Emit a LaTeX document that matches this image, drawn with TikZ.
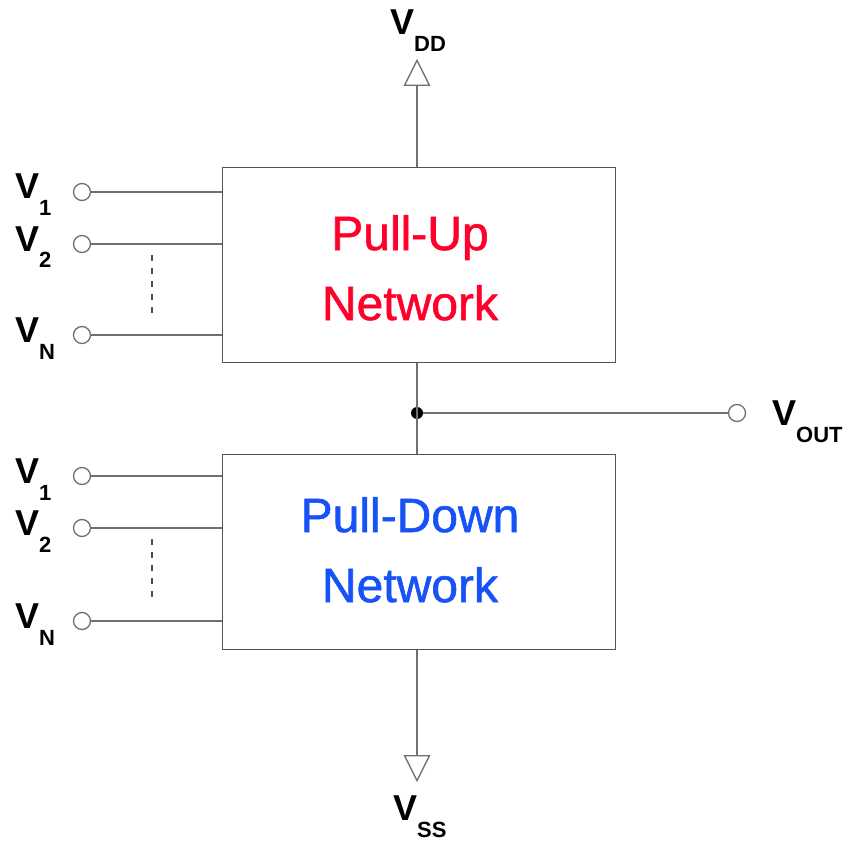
\documentclass[tikz,border=0pt]{standalone}
\usepackage{fontspec}
\setmainfont{Liberation Sans}
\newfontfamily\netfont[FakeBold=1.2]{Liberation Sans}
\usetikzlibrary{positioning, shapes.geometric}
\definecolor{pured}{RGB}{255,0,43}
\definecolor{pdblue}{RGB}{22,82,245}
\definecolor{wire}{RGB}{112,112,112}
% supply / signal name: big V with a dropped subscript
\newcommand{\vname}[1]{{\fontsize{36}{36}\selectfont\bfseries V}\raisebox{-17pt}{\fontsize{22}{22}\selectfont\bfseries #1}}
\tikzset{net/.style={rectangle,draw=wire!75!black,fill=white,line width=1.5pt,minimum width=393pt,minimum height=195pt,inner sep=0pt},nettext/.style={align=center,font=\netfont\fontsize{48}{70}\selectfont,inner sep=0pt,anchor=base},term/.style={circle,draw=wire,fill=white,line width=1.3pt,minimum size=17pt,inner sep=0pt},junc/.style={circle,fill=black,minimum size=12pt,inner sep=0pt},rail/.style={isosceles triangle,isosceles triangle stretches,draw=wire,fill=white,line width=1.3pt,minimum width=25pt,minimum height=25pt,inner sep=0pt},vlab/.style={inner sep=0pt,anchor=base west},wireline/.style={draw=wire,line width=1.3pt},dots/.style={draw=wire!70!black,line width=1.3pt,dash pattern=on 6pt off 7pt}}

\begin{document}
\begin{tikzpicture}[x=1pt,y=-1pt]
\useasboundingbox[fill=white] (0,0) rectangle (842,842);

% the two networks (text anchored on its last line)
\node[net] (pu) at (419.2,265) {};
\node[net] (pd) at (419.2,552) {};
\node[nettext, text=pured] (putxt) at (410,320) {Pull-Up\\Network};
\node[nettext, text=pdblue] (pdtxt) at (410,602) {Pull-Down\\Network};

% supplies
\node[rail, shape border rotate=90, anchor=south] (vdd) at (417,86) {};
\node[rail, shape border rotate=270, anchor=north] (vss) at (417,755) {};
\node[vlab] (vddl) at (390,35) {\vname{DD}};
\node[vlab] (vssl) at (393,820) {\vname{SS}};
\draw[wireline] (vdd.south) -- (vdd.south |- pu.north);
\draw[wireline] (vss.north) -- (vss.north |- pd.south);

% output node
\node[junc] (j) at (417,413) {};
\node[term] (out) at (737,413) {};
\node[vlab] (outl) at (772,425) {\vname{OUT}};
\draw[wireline] (pu.south -| j) -- (pd.north -| j);
\draw[wireline] (j) -- (out);

% inputs of the pull-up network
\node[term] (a1) at (82,192) {};
\node[term] (a2) at (82,244) {};
\node[term] (an) at (82,335) {};
\node[vlab] (la1) at (15,199) {\vname{1}};
\node[vlab] (la2) at (15,251) {\vname{2}};
\node[vlab] (lan) at (15,342) {\vname{N}};
\draw[wireline] (a1) -- (a1 -| pu.west);
\draw[wireline] (a2) -- (a2 -| pu.west);
\draw[wireline] (an) -- (an -| pu.west);
\draw[dots] (152,255) -- (152,314);

% inputs of the pull-down network
\node[term] (b1) at (82,476) {};
\node[term] (b2) at (82,528) {};
\node[term] (bn) at (82,621) {};
\node[vlab] (lb1) at (15,483) {\vname{1}};
\node[vlab] (lb2) at (15,535) {\vname{2}};
\node[vlab] (lbn) at (15,628) {\vname{N}};
\draw[wireline] (b1) -- (b1 -| pd.west);
\draw[wireline] (b2) -- (b2 -| pd.west);
\draw[wireline] (bn) -- (bn -| pd.west);
\draw[dots] (152,539) -- (152,599);
\end{tikzpicture}
\end{document}
